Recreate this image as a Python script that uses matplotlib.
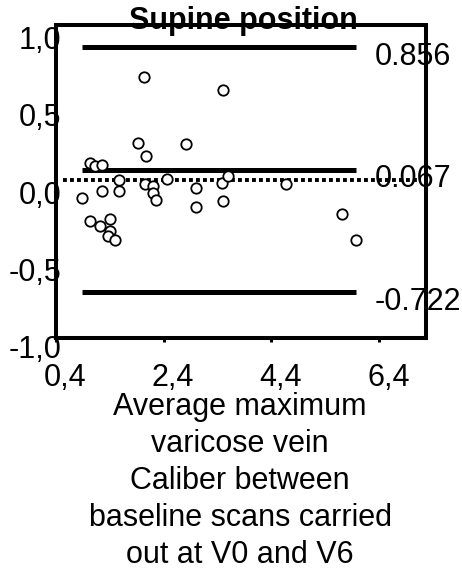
import numpy as np
import matplotlib.pyplot as plt
from matplotlib.transforms import ScaledTranslation

plt.rcParams['font.family'] = ['Liberation Sans', 'DejaVu Sans']

# values (average vs difference)
avg = [0.88, 1.03, 1.12, 1.26, 1.26, 1.58, 1.58, 1.92, 2.07, 2.04, 2.06,
       2.21, 2.20, 2.26, 2.46, 2.82, 3.01, 3.01, 3.50, 3.48, 3.59, 3.50,
       4.67, 5.72, 5.97, 1.03, 1.22, 1.40, 1.40, 1.36, 1.50]
diff = [-0.113, 0.111, 0.092, 0.098, -0.074, 0.000, -0.074, 0.242, 0.152,
        0.667, -0.026, -0.037, -0.081, -0.130, 0.008, 0.234, -0.050, -0.176,
        0.581, -0.021, 0.024, -0.136, -0.026, -0.220, -0.386, -0.267, -0.298,
        -0.253, -0.326, -0.360, -0.388]

limits = [0.856, 0.067, -0.722]
limit_labels = ['0.856', '0.067', '-0.722']

xticks = [0.4, 2.4, 4.4, 6.4]
xtick_labels = ['0,4', '2,4', '4,4', '6,4']
yticks = [-1.0, -0.5, 0.0, 0.5, 1.0]
ytick_labels = ['-1,0', '-0,5', '0,0', '0,5', '1,0']

fs = 22

fig = plt.figure(figsize=(4.62, 5.71), dpi=100)
ax = fig.add_axes([0.1212, 0.408, 0.800, 0.548])

# bias and limits of agreement
ax.hlines(limits, min(avg), max(avg), colors='black', lw=3.6)
ax.axhline(0, xmin=0.02, xmax=0.985, color='black', lw=2.8, ls=(0, (1, 0.8)))

ax.plot(avg, diff, 'o', ms=7.5, mfc='white', mec='black', mew=1.3)

for v, lbl in zip(limits, limit_labels):
    ax.annotate(lbl, xy=(6.33, v), xytext=(0, -7), textcoords='offset points',
                fontsize=fs, va='center', ha='left', annotation_clip=False)

ax.set_xlim(0.4, 7.27)
ax.set_ylim(-1.02, 0.993)
ax.set_xticks(xticks, xtick_labels, fontsize=fs)
ax.set_yticks(yticks, ytick_labels, fontsize=fs)
ax.tick_params(axis='x', length=3, width=2.2, pad=15)
ax.tick_params(axis='y', length=0, pad=-4)

for s in ax.spines.values():
    s.set_linewidth(2.9)

# shift tick labels like in the original
dx = ScaledTranslation(9.5 / 100, 0, fig.dpi_scale_trans)
for t in ax.get_xticklabels():
    t.set_transform(t.get_transform() + dx)
dy = ScaledTranslation(0, -12 / 100, fig.dpi_scale_trans)
for t in ax.get_yticklabels():
    t.set_transform(t.get_transform() + dy)

fig.text(0.526, 1 - 29 / 571, 'Supine position', fontsize=22, fontweight='bold',
         ha='center', va='baseline')

fig.text(0.52, 1 - 392 / 571,
         'Average maximum\nvaricose vein\nCaliber between\nbaseline scans carried\nout at V0 and V6',
         fontsize=fs, ha='center', va='top', linespacing=1.3)

fig.savefig('out.png', dpi=100)
